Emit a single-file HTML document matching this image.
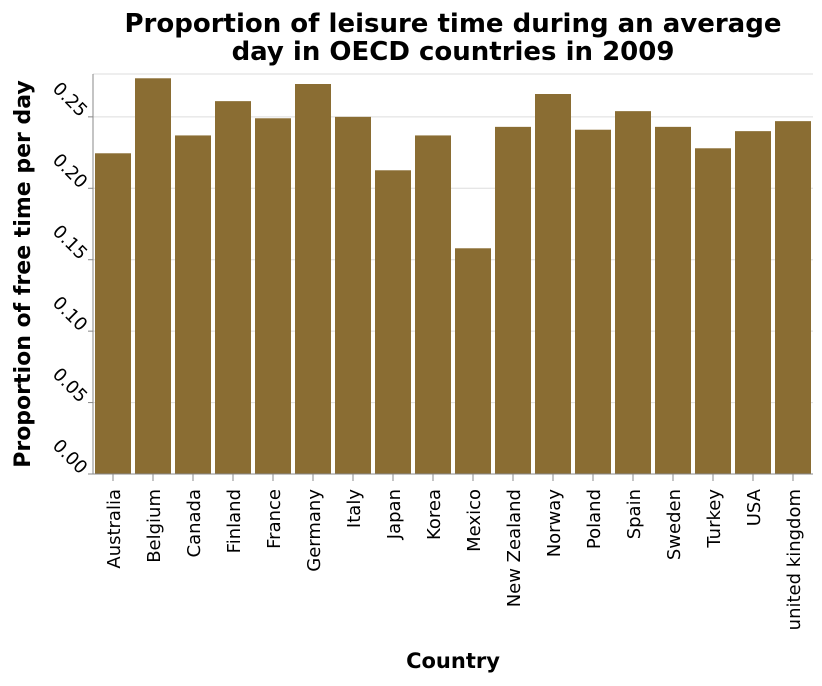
<!DOCTYPE html>
<html><head><meta charset="utf-8"><style>
body{margin:0;background:#fff;font-family:"DejaVu Sans",sans-serif}
</style></head><body>
<svg id="c" width="822" height="682" xmlns="http://www.w3.org/2000/svg" font-family="DejaVu Sans, sans-serif"></svg>
<script>
const categories=["Australia","Belgium","Canada","Finland","France","Germany","Italy","Japan","Korea","Mexico","New Zealand","Norway","Poland","Spain","Sweden","Turkey","USA","united kingdom"];
const values=[0.2245,0.277,0.237,0.261,0.249,0.273,0.250,0.2126,0.237,0.158,0.243,0.266,0.241,0.254,0.243,0.228,0.240,0.247];
const yTicks=[0,0.05,0.10,0.15,0.20,0.25];
const yTickLabels=["0.00","0.05","0.10","0.15","0.20","0.25"];
const svg=document.getElementById('c');const NS="http://www.w3.org/2000/svg";
const L=93,R=813,T=74,B=474,yMax=0.28;
const y=v=>B-(v/yMax)*(B-T);
const step=(R-L)/categories.length;
const x=i=>L+i*step;
function mk(t,a,p){const e=document.createElementNS(NS,t);for(const k in a)e.setAttribute(k,a[k]);(p||svg).appendChild(e);return e;}
let e;
e=mk('text',{x:453,y:32,'text-anchor':'middle','font-size':26,'font-weight':'bold'});e.textContent="Proportion of leisure time during an average";


e=mk('text',{x:453,y:60,'text-anchor':'middle','font-size':26,'font-weight':'bold'});e.textContent="day in OECD countries in 2009";


yTicks.forEach((v,i)=>{
 let g=mk('line',{x1:L,x2:R,y1:y(v),y2:y(v),stroke:'#ddd','stroke-width':1});
 
 
 let tk=mk('line',{x1:L-5,x2:L,y1:y(v),y2:y(v),stroke:'#888','stroke-width':1});
 
 
 const ax=L-13,ay=y(v)+1;
 let t=mk('text',{x:ax,y:ay,'text-anchor':'end','font-size':18,transform:`rotate(45 ${ax} ${ay})`});
 t.textContent=yTickLabels[i];
 
 
});
e=mk('line',{x1:L,x2:R,y1:T,y2:T,stroke:'#ddd'});


categories.forEach((c,i)=>{
 const bx=x(i)+2,cx=x(i)+step/2;
 let b=mk('rect',{x:bx,y:y(values[i]),width:step-4,height:B-y(values[i]),fill:'#8a6d33'});
 
 
 let tk=mk('line',{x1:cx,x2:cx,y1:B,y2:B+7,stroke:'#888'});
 
 
 const ax=cx+7,ay=B+15;
 let t=mk('text',{x:ax,y:ay,'text-anchor':'end','font-size':18,transform:`rotate(-90 ${ax} ${ay})`});
 t.textContent=c;
 
 
});
e=mk('line',{x1:L,x2:L,y1:T,y2:B,stroke:'#888'});


e=mk('line',{x1:L,x2:R,y1:B,y2:B,stroke:'#888'});


e=mk('text',{x:30,y:274,'text-anchor':'middle','font-size':22,'font-weight':'bold',transform:'rotate(-90 30 274)'});e.textContent="Proportion of free time per day";


e=mk('text',{x:453,y:668,'text-anchor':'middle','font-size':21,'font-weight':'bold'});e.textContent="Country";


</script>
</body></html>
